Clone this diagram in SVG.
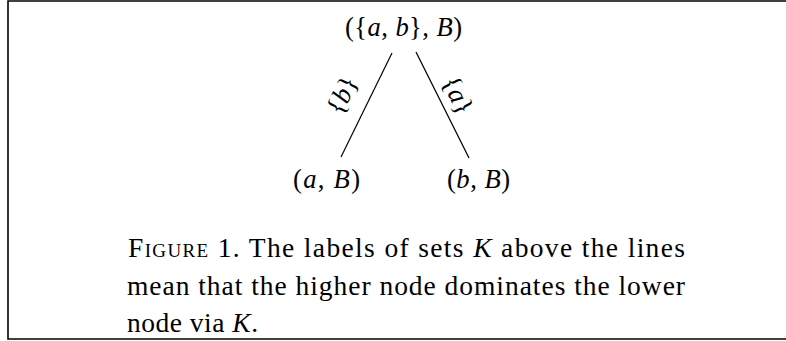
<svg xmlns="http://www.w3.org/2000/svg" width="786" height="341" viewBox="0 0 786 341">
<style>
  text { font-family: "Liberation Serif", "Times New Roman", serif; font-size: 26.6px; fill: #000; }
  .cap { font-size: 27.5px; }
  .m { text-anchor: middle; }
  .i { font-style: italic; }
  .edge { stroke: #000; stroke-width: 1.2; fill: none; }
  .frame { stroke: #000; stroke-width: 1.6; fill: none; }
</style>
<rect x="0" y="0" width="786" height="341" fill="#fff"/>
<path class="frame" d="M786,1 H8 V339 H786"/>
<g id="connectors">
  <line class="edge" x1="392" y1="53" x2="341" y2="157"/>
  <line class="edge" x1="416" y1="52" x2="469" y2="158"/>
  <g id="label-b" transform="translate(344,96) rotate(-63.9)">
    <text class="m" x="0" y="6.6">{<tspan class="i">b</tspan>}</text>
  </g>
  <g id="label-a" transform="translate(456,96) rotate(63.4)">
    <text class="m" x="0" y="6.6">{<tspan class="i">a</tspan>}</text>
  </g>
</g>
<g id="node-top">
  <text x="345" y="36" textLength="117" lengthAdjust="spacing">({<tspan class="i">a</tspan>, <tspan class="i">b</tspan>}, <tspan class="i">B</tspan>)</text>
</g>
<g id="node-aB">
  <text x="293" y="188" textLength="67" lengthAdjust="spacing">(<tspan class="i">a</tspan>, <tspan class="i">B</tspan>)</text>
</g>
<g id="node-bB">
  <text x="447" y="188" textLength="63" lengthAdjust="spacing">(<tspan class="i">b</tspan>, <tspan class="i">B</tspan>)</text>
</g>
<g id="caption">
  <text class="cap" x="128" y="257" textLength="557" lengthAdjust="spacing"><tspan style="font-variant: small-caps">Figure</tspan> 1.  The labels of sets <tspan class="i">K</tspan> above the lines</text>
  <text class="cap" x="127" y="294.5" textLength="558" lengthAdjust="spacing">mean that the higher node dominates the lower</text>
  <text class="cap" x="127" y="332" textLength="131" lengthAdjust="spacing">node via <tspan class="i">K</tspan>.</text>
</g>
</svg>
